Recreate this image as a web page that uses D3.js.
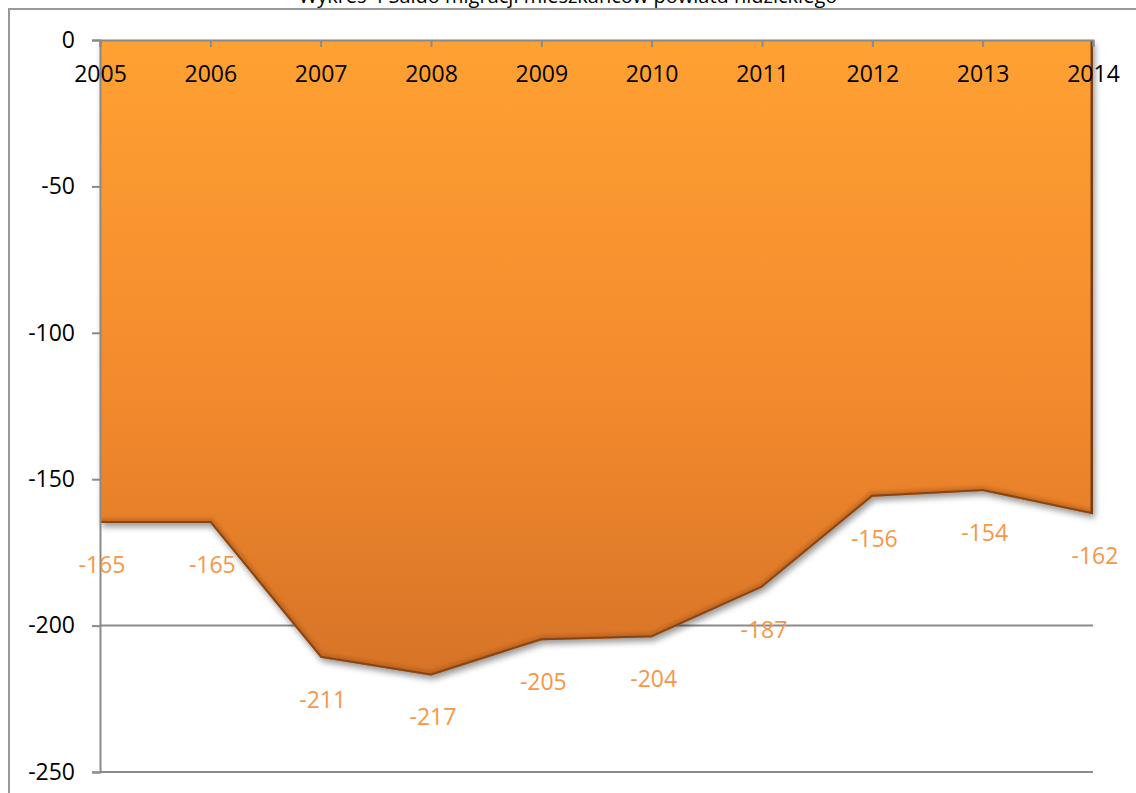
<!DOCTYPE html>
<html lang="pl">
<head>
<meta charset="UTF-8">
<title>Saldo migracji</title>
<script src="https://d3js.org/d3.v7.min.js"></script>
<style>
  body { margin: 0; background: #fff; }
  svg text { font-family: "Open Sans", "Noto Sans", sans-serif; }
</style>
</head>
<body>
<div id="chart"></div>
<script>
// data
var years = ["2005", "2006", "2007", "2008", "2009", "2010", "2011", "2012", "2013", "2014"];
var values = [-165, -165, -211, -217, -205, -204, -187, -156, -154, -162];
var yTicks = [0, -50, -100, -150, -200, -250];
var title = "Wykres 4 Saldo migracji mieszkańców powiatu nidzickiego";

var W = 1136, H = 793;
var plotLeft = 100, plotRight = 1093, plotTop = 40, plotBottom = 772;

var svg = d3.select("#chart").append("svg")
    .attr("width", W)
    .attr("height", H);

var defs = svg.append("defs");

var grad = defs.append("linearGradient")
    .attr("id", "fillGrad")
    .attr("gradientUnits", "userSpaceOnUse")
    .attr("x1", 0).attr("y1", plotTop).attr("x2", 0).attr("y2", 680);
grad.append("stop").attr("offset", "0%").attr("stop-color", "#ffa133");
grad.append("stop").attr("offset", "55%").attr("stop-color", "#f38a2d");
grad.append("stop").attr("offset", "100%").attr("stop-color", "#d67327");

var blur = defs.append("filter").attr("id", "shadow")
    .attr("x", "-5%").attr("y", "-5%").attr("width", "110%").attr("height", "115%");
blur.append("feGaussianBlur").attr("stdDeviation", 3);

var soft = defs.append("filter").attr("id", "soft");
soft.append("feGaussianBlur").attr("stdDeviation", 1.5);

// outer chart frame
svg.append("rect")
    .attr("x", 9).attr("y", 9)
    .attr("width", W + 20).attr("height", H + 20)
    .attr("fill", "none")
    .attr("stroke", "#999")
    .attr("stroke-width", 2);

// title (cut by the top edge)
svg.append("text")
    .attr("x", 568)
    .attr("y", 3)
    .attr("text-anchor", "middle")
    .style("font-size", "20px")
    .attr("fill", "#000")
    .text(title);

var x = d3.scalePoint()
    .domain(years)
    .range([plotLeft, plotRight]);

var y = d3.scaleLinear()
    .domain([-250, 0])
    .range([plotBottom, plotTop]);

// gridlines
svg.append("g")
    .selectAll("line")
    .data(yTicks.filter(function(d) { return d !== 0; }))
    .enter()
    .append("line")
    .attr("x1", plotLeft).attr("x2", plotRight)
    .attr("y1", function(d) { return y(d); })
    .attr("y2", function(d) { return y(d); })
    .attr("stroke", "#8a8a8a")
    .attr("stroke-width", 2);

var area = d3.area()
    .x(function(d, i) { return x(years[i]); })
    .y0(y(0))
    .y1(function(d) { return y(d); });

var line = d3.line()
    .x(function(d, i) { return x(years[i]); })
    .y(function(d) { return y(d); });

// shadow below the area
svg.append("path")
    .datum(values)
    .attr("d", area)
    .attr("transform", "translate(2,4)")
    .attr("fill", "#000")
    .attr("opacity", 0.4)
    .attr("filter", "url(#shadow)");

svg.append("path")
    .datum(values)
    .attr("d", area)
    .attr("fill", "url(#fillGrad)");

// bevel effect, clipped to the area
defs.append("clipPath").attr("id", "areaClip")
    .append("path")
    .datum(values)
    .attr("d", area);

var bevel = svg.append("g").attr("clip-path", "url(#areaClip)");

bevel.append("path")
    .datum(values)
    .attr("d", line)
    .attr("fill", "none")
    .attr("stroke", "#a85719")
    .attr("stroke-width", 10)
    .attr("opacity", 0.45)
    .attr("filter", "url(#soft)");

bevel.append("path")
    .datum(values)
    .attr("d", line)
    .attr("fill", "none")
    .attr("stroke", "#8a4512")
    .attr("stroke-width", 4);

bevel.append("line")
    .attr("x1", plotLeft).attr("x2", plotRight)
    .attr("y1", plotTop).attr("y2", plotTop)
    .attr("stroke", "#ffc65c")
    .attr("stroke-width", 10)
    .attr("filter", "url(#soft)");

bevel.append("line")
    .attr("x1", plotLeft).attr("x2", plotLeft)
    .attr("y1", plotTop).attr("y2", y(values[0]))
    .attr("stroke", "#ffae45")
    .attr("stroke-width", 8)
    .attr("filter", "url(#soft)");

bevel.append("line")
    .attr("x1", plotRight).attr("x2", plotRight)
    .attr("y1", plotTop).attr("y2", y(values[values.length - 1]))
    .attr("stroke", "#7a3d10")
    .attr("stroke-width", 5);

// axes
var yAxis = svg.append("g")
    .attr("transform", "translate(" + plotLeft + ",0)")
    .call(d3.axisLeft(y)
        .tickValues(yTicks)
        .tickFormat(function(d) { return String(d); })
        .tickSize(8)
        .tickPadding(17));

var xAxis = svg.append("g")
    .attr("transform", "translate(0," + y(0) + ")")
    .call(d3.axisBottom(x).tickSize(7).tickPadding(19));

[xAxis, yAxis].forEach(function(a) {
    a.select(".domain").attr("stroke", "#8a8a8a").attr("stroke-width", 2);
    a.selectAll(".tick line").attr("stroke", "#8a8a8a").attr("stroke-width", 2);
    a.selectAll("text")
        .attr("fill", "#000")
        .style("font-size", "23px")
        .style("font-family", "'Open Sans', sans-serif");
});

// data labels
svg.append("g")
    .selectAll("text")
    .data(values)
    .enter()
    .append("text")
    .attr("x", function(d, i) { return x(years[i]) + 2; })
    .attr("y", function(d) { return y(d) + 42; })
    .attr("dy", "0.35em")
    .attr("text-anchor", "middle")
    .attr("fill", "#f79646")
    .style("font-size", "23px")
    .text(function(d) { return d; });
</script>
</body>
</html>
